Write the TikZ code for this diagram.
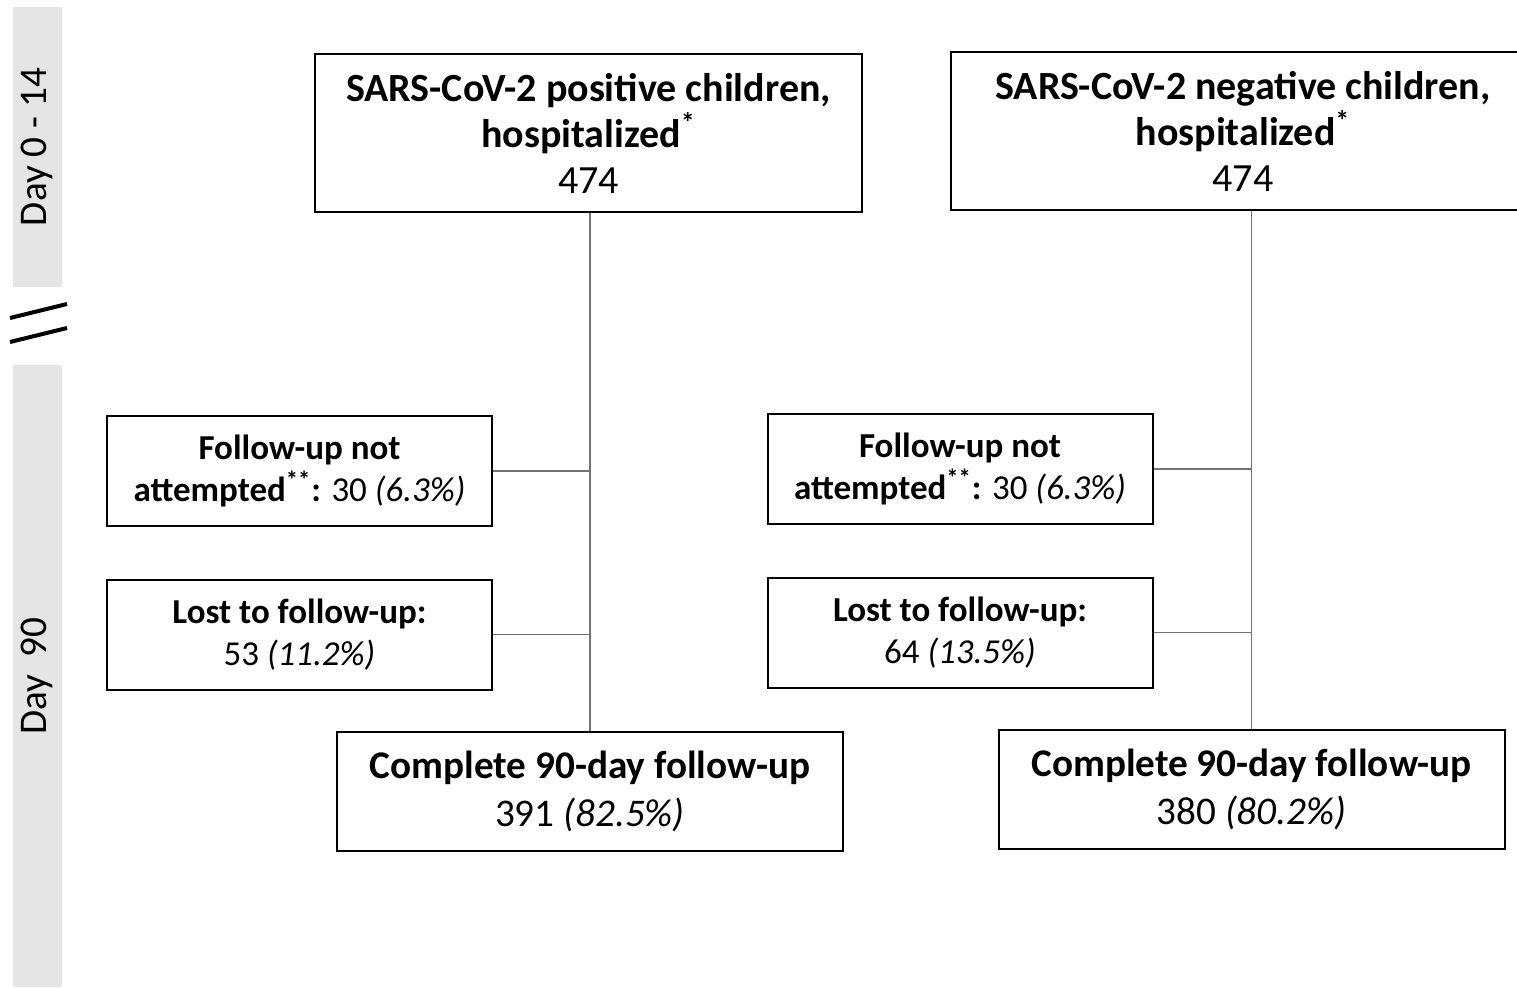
\documentclass[tikz,border=0pt]{standalone}
\usepackage{fontspec}
\setmainfont{Carlito}
\begin{document}
\begin{tikzpicture}[x=0.5pt,y=-0.5pt,
  phase/.style={rectangle,fill=black!10,draw=none,inner sep=0pt,rotate=90,minimum height=24.5pt,font=\fontsize{19.6}{23}\selectfont},
  cohort/.style={rectangle,draw=black,line width=1pt,align=center,inner sep=0pt,minimum height=79pt,font=\fontsize{20}{23}\selectfont},
  drop/.style={rectangle,draw=black,line width=1pt,align=center,inner sep=0pt,minimum width=192.5pt,minimum height=55pt,font=\fontsize{17.5}{21}\selectfont},
  final/.style={rectangle,draw=black,line width=1pt,align=center,inner sep=0pt,minimum width=253pt,minimum height=59.5pt,font=\fontsize{19.6}{24}\selectfont},
  link/.style={draw=black!55,line width=0.6pt}]

  \useasboundingbox (0,0) rectangle (1517,987) ;

  % time axis
  \node[phase,minimum width=140pt] at (37,147) (early) {Day 0 - 14} ;
  \node[phase,minimum width=311pt] at (37,676) (late)  {Day\ \ 90} ;
  \draw[line width=2pt] (10,318) -- (67,304) ;
  \draw[line width=2pt] (10,342) -- (67,328) ;

  % positive children
  \node[cohort,minimum width=273.5pt] at (588.5,133) (pos)
    {\textbf{SARS-CoV-2 positive children,}\\\textbf{hospitalized\textsuperscript{*}}\\474} ;
  \node[drop] at (299.5,471)   (posfna)  {\textbf{Follow-up not}\\\textbf{attempted\textsuperscript{**}:} 30 \textit{(6.3\%)}} ;
  \node[drop] at (299.5,634.5) (poslost) {\textbf{Lost to follow-up:}\\53 \textit{(11.2\%)}} ;
  \node[final] at (590,791.5)  (posfull) {\textbf{Complete 90-day follow-up}\\391 \textit{(82.5\%)}} ;

  % negative children (box runs off the right edge)
  \node[cohort,minimum width=292pt] at (1243,131) (neg)
    {\textbf{SARS-CoV-2 negative children,}\\\textbf{hospitalized\textsuperscript{*}}\\474} ;
  \node[drop] at (960,469)     (negfna)  {\textbf{Follow-up not}\\\textbf{attempted\textsuperscript{**}:} 30 \textit{(6.3\%)}} ;
  \node[drop] at (960,632.5)   (neglost) {\textbf{Lost to follow-up:}\\64 \textit{(13.5\%)}} ;
  \node[final] at (1251.5,789.5) (negfull) {\textbf{Complete 90-day follow-up}\\380 \textit{(80.2\%)}} ;

  \draw[link] (posfull.north) -- (posfull.north |- pos.south) ;
  \draw[link] (posfna)        -- (posfna -| posfull.north) ;
  \draw[link] (poslost)       -- (poslost -| posfull.north) ;
  \draw[link] (negfull.north) -- (negfull.north |- neg.south) ;
  \draw[link] (negfna)        -- (negfna -| negfull.north) ;
  \draw[link] (neglost)       -- (neglost -| negfull.north) ;

\end{tikzpicture}
\end{document}
